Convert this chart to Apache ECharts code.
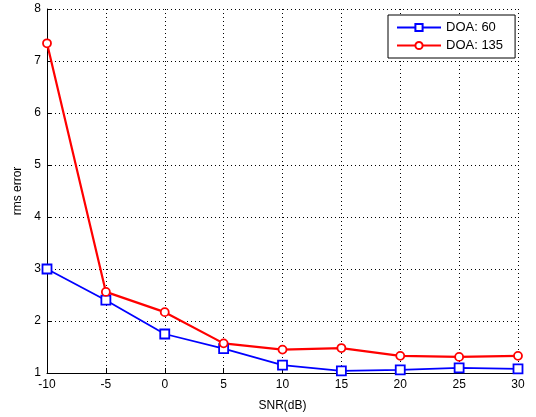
<!DOCTYPE html>
<html><head><meta charset="utf-8">
<script src="https://cdn.jsdelivr.net/npm/echarts@6/dist/echarts.min.js"></script>
<style>html,body{margin:0;padding:0;background:#fff}#c{width:536px;height:417px}</style>
</head><body><div id="c"></div>
<script>
var snr = [-10, -5, 0, 5, 10, 15, 20, 25, 30];
var doa60 = [3.0, 2.4, 1.75, 1.47, 1.15, 1.04, 1.06, 1.10, 1.08];
var doa135 = [7.34, 2.56, 2.17, 1.57, 1.45, 1.48, 1.33, 1.31, 1.33];
var seriesNames = ['DOA: 60', 'DOA: 135'];

var font = 'Liberation Sans, Arial, sans-serif';
var chart = echarts.init(document.getElementById('c'));
function pairs(ys){ return snr.map(function(x,i){ return [x, ys[i]]; }); }
chart.setOption({
  animation: false,
  backgroundColor: '#fff',
  grid: { left: 47, right: 18, top: 9, bottom: 44 },
  legend: {
    orient: 'vertical', left: 388, top: 15, width: 124,
    backgroundColor: '#fff', borderColor: '#000', borderWidth: 1, borderRadius: 0,
    padding: [6, 12, 6, 8], itemWidth: 44, itemHeight: 9, itemGap: 5,
    textStyle: { fontFamily: font, fontSize: 13, color: '#000' },
    data: seriesNames
  },
  xAxis: {
    type: 'value', min: -10, max: 30, interval: 5,
    name: 'SNR(dB)', nameLocation: 'middle', nameGap: 27,
    nameTextStyle: { fontFamily: font, fontSize: 12, color: '#000' },
    axisLine: { onZero: false, lineStyle: { color: '#000', width: 1 } },
    axisTick: { inside: true, length: 5, lineStyle: { color: '#000' } },
    axisLabel: { fontFamily: font, fontSize: 12, color: '#000', margin: 6 },
    splitLine: { show: true, lineStyle: { color: '#000', type: [1, 3], width: 1 } }
  },
  yAxis: {
    type: 'value', min: 1, max: 8, interval: 1,
    name: 'rms error', nameLocation: 'middle', nameGap: 22,
    nameTextStyle: { fontFamily: font, fontSize: 12, color: '#000' },
    axisLine: { show: true, onZero: false, lineStyle: { color: '#000', width: 1 } },
    axisTick: { show: true, inside: true, length: 5, lineStyle: { color: '#000' } },
    axisLabel: { fontFamily: font, fontSize: 12, color: '#000', margin: 6 },
    splitLine: { show: true, lineStyle: { color: '#000', type: [1, 3], width: 1 } }
  },
  series: [
    { name: seriesNames[0], type: 'line', data: pairs(doa60),
      symbol: 'rect', symbolSize: 9,
      lineStyle: { color: '#0000ff', width: 1.8 },
      itemStyle: { color: '#fff', borderColor: '#0000ff', borderWidth: 1.8 } },
    { name: seriesNames[1], type: 'line', data: pairs(doa135),
      symbol: 'circle', symbolSize: 8,
      lineStyle: { color: '#ff0000', width: 2.2 },
      itemStyle: { color: '#fff', borderColor: '#ff0000', borderWidth: 1.8 } }
  ]
});
</script></body></html>
